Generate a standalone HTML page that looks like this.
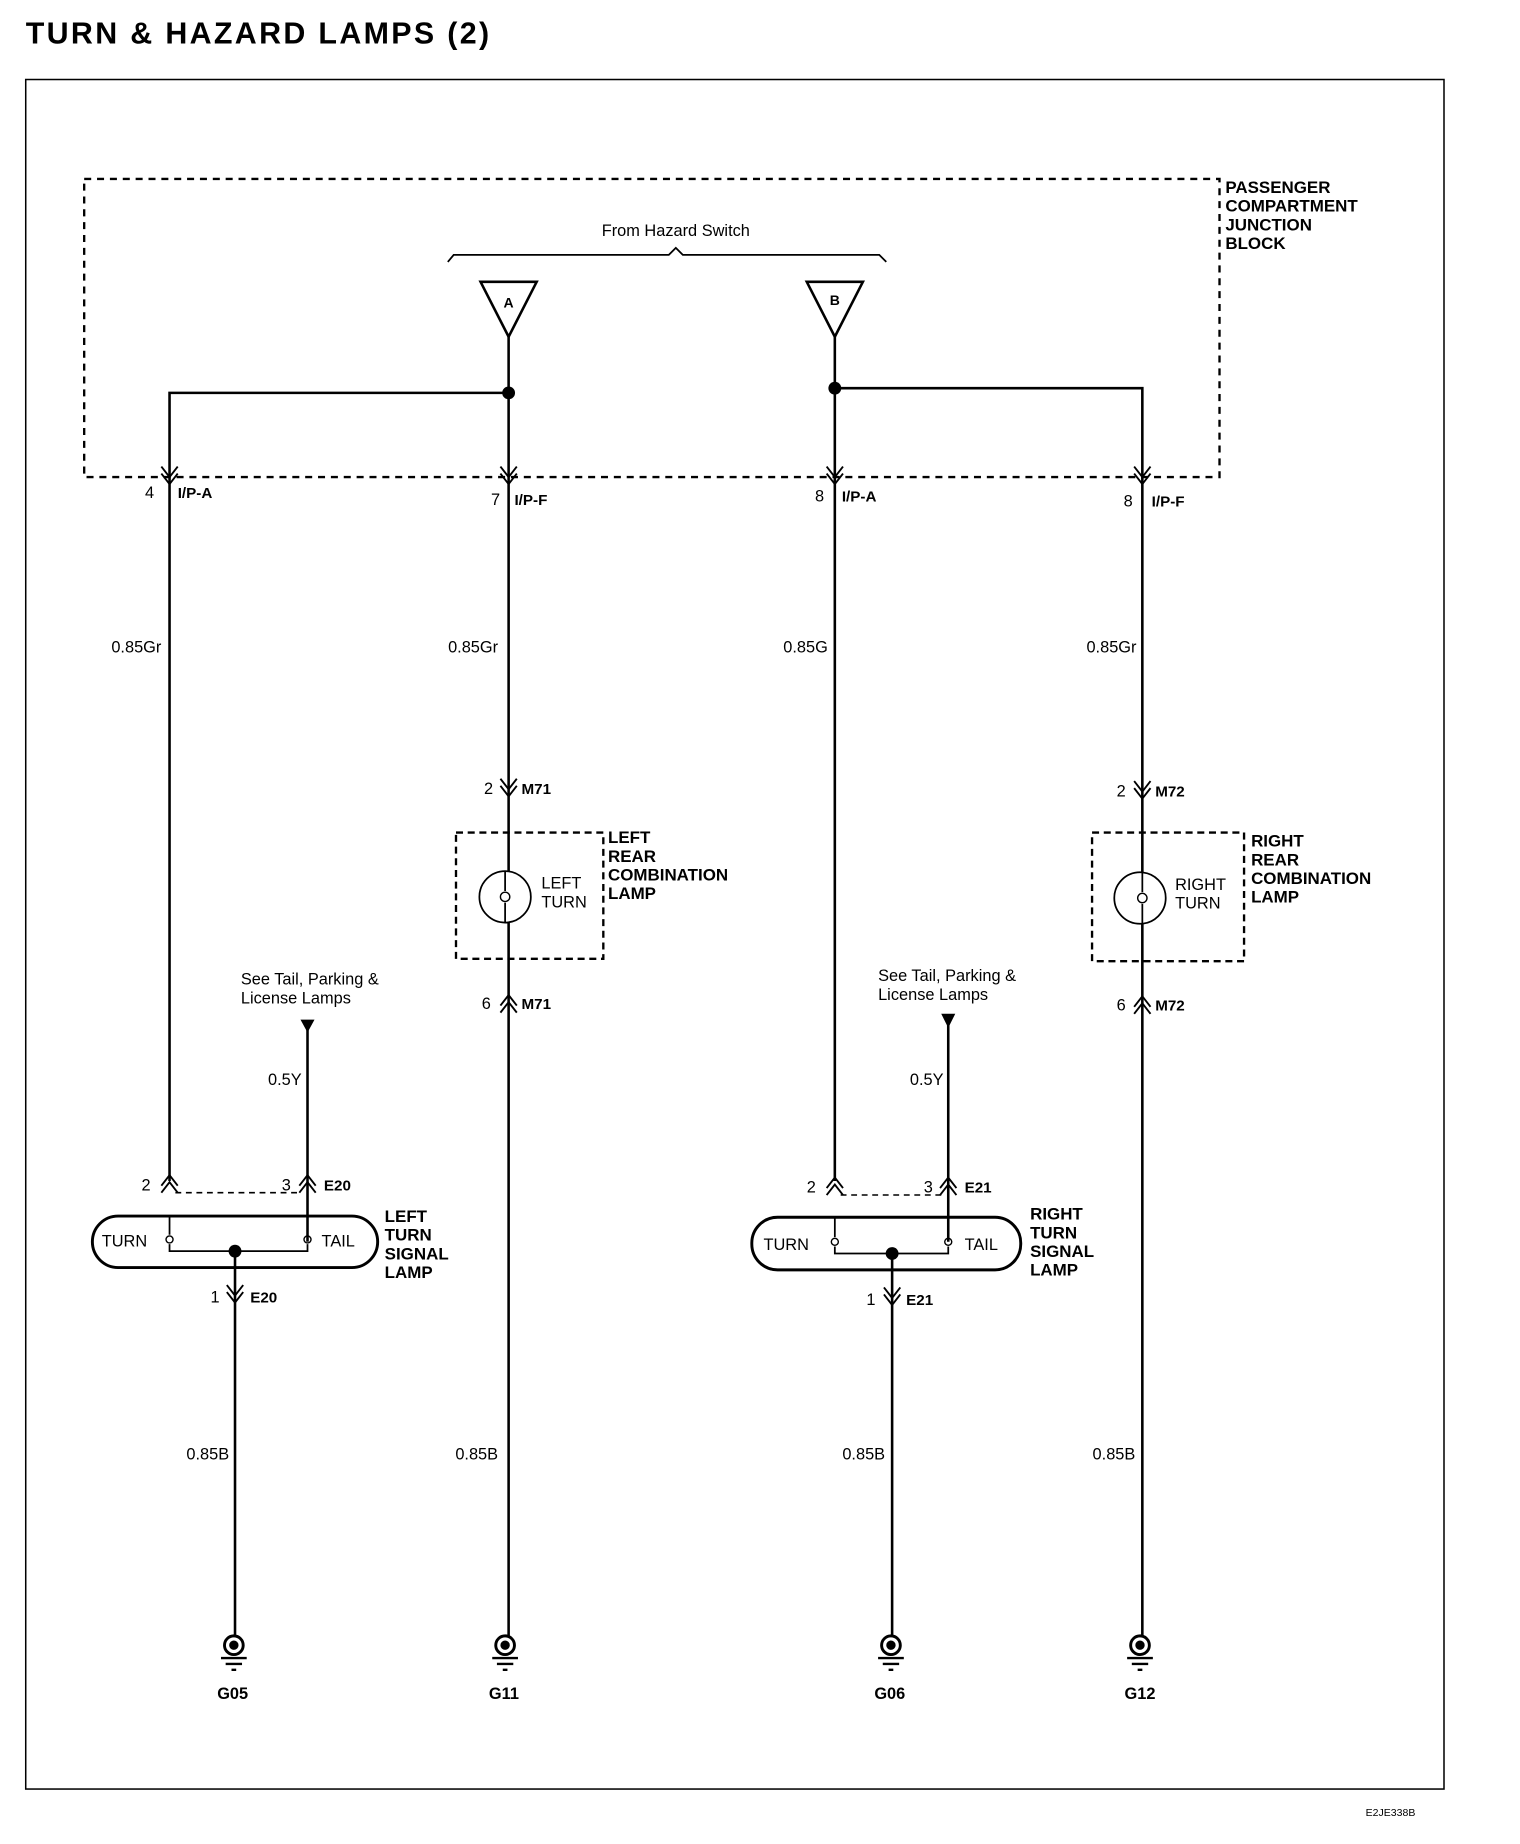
<!DOCTYPE html>
<html><head><meta charset="utf-8"><style>
html,body{margin:0;padding:0;background:#fff;}
svg{display:block}
text{font-family:"Liberation Sans",Arial,sans-serif;fill:#000}
.b{font-weight:bold;font-size:14.5px}
.n{font-size:14px}
</style></head><body>
<svg width="1520" height="1844" viewBox="0 0 1300 1577" preserveAspectRatio="none" xmlns="http://www.w3.org/2000/svg">
<defs>
<g id="dn"><path d="M-7,-9 L0,0 L7,-9 M-7,-3 L0,6 L7,-3" fill="none" stroke="#000" stroke-width="1.6"/></g>
<g id="up"><path d="M-7,9 L0,0 L7,9 M-7,3 L0,-6 L7,3" fill="none" stroke="#000" stroke-width="1.6"/></g>
<g id="gnd"><circle cx="0" cy="0" r="8" fill="#fff" stroke="#000" stroke-width="2.5"/><circle cx="0" cy="0" r="4" fill="#000"/><path d="M-11,11 H11 M-7,16 H7 M-2,21 H2" stroke="#000" stroke-width="2"/></g>
</defs>
<rect width="1300" height="1577" fill="#fff"/>
<text x="22" y="37" style="font-weight:bold;font-size:26px;letter-spacing:2px">TURN &amp; HAZARD LAMPS (2)</text>
<rect x="22" y="68" width="1213" height="1462" fill="none" stroke="#000" stroke-width="1.3"/>
<text x="1168" y="1553" style="font-size:9px">E2JE338B</text>

<rect x="72" y="153" width="971" height="255" fill="none" stroke="#000" stroke-width="2" stroke-dasharray="6,5"/>
<text class="b" x="1048" y="165">PASSENGER</text>
<text class="b" x="1048" y="181">COMPARTMENT</text>
<text class="b" x="1048" y="197">JUNCTION</text>
<text class="b" x="1048" y="213">BLOCK</text>
<text class="n" x="578" y="202" text-anchor="middle">From Hazard Switch</text>
<path d="M383,224 L388,218 H572 L578,212 L584,218 H752 L758,224" fill="none" stroke="#000" stroke-width="1.5"/>
<path d="M411,241 H459 L435,288 Z" fill="#fff" stroke="#000" stroke-width="2.2"/>
<text x="435" y="263" text-anchor="middle" style="font-weight:bold;font-size:12px">A</text>
<path d="M690,241 H738 L714,288 Z" fill="#fff" stroke="#000" stroke-width="2.2"/>
<text x="714" y="261" text-anchor="middle" style="font-weight:bold;font-size:12px">B</text>

<g stroke="#000" stroke-width="2.2" fill="none">
<path d="M435,288 V1400"/>
<path d="M435,336 H145 V1010"/>
<path d="M714,288 V1010"/>
<path d="M714,332 H977 V1400"/>
<path d="M263,880 V1062"/>
<path d="M811,876 V1062"/>
<path d="M201,1070 V1400"/>
<path d="M763,1072 V1400"/>
</g>
<circle cx="435" cy="336" r="5.5"/><circle cx="714" cy="332" r="5.5"/>

<use href="#dn" x="145" y="408"/><use href="#dn" x="435" y="408"/><use href="#dn" x="714" y="408"/><use href="#dn" x="977" y="408"/>
<text class="n" x="124" y="426">4</text><text class="b" x="152" y="426" style="font-size:13px">I/P-A</text>
<text class="n" x="420" y="432">7</text><text class="b" x="440" y="432" style="font-size:13px">I/P-F</text>
<text class="n" x="697" y="429">8</text><text class="b" x="720" y="429" style="font-size:13px">I/P-A</text>
<text class="n" x="961" y="433">8</text><text class="b" x="985" y="433" style="font-size:13px">I/P-F</text>

<text class="n" x="138" y="558" text-anchor="end">0.85Gr</text>
<text class="n" x="426" y="558" text-anchor="end">0.85Gr</text>
<text class="n" x="708" y="558" text-anchor="end">0.85G</text>
<text class="n" x="972" y="558" text-anchor="end">0.85Gr</text>

<use href="#dn" x="435" y="675"/>
<text class="n" x="414" y="679">2</text><text class="b" x="446" y="679" style="font-size:13px">M71</text>
<rect x="390" y="712" width="126" height="108" fill="none" stroke="#000" stroke-width="2" stroke-dasharray="6,4"/>
<circle cx="432" cy="767" r="22" fill="#fff" stroke="#000" stroke-width="1.5"/>
<path d="M432,745 V762 M432,772 V789" stroke="#000" stroke-width="1.5"/><circle cx="432" cy="767" r="4" fill="none" stroke="#000" stroke-width="1.2"/>
<text class="n" x="463" y="760">LEFT</text><text class="n" x="463" y="776">TURN</text>
<text class="b" x="520" y="721">LEFT</text><text class="b" x="520" y="737">REAR</text><text class="b" x="520" y="753">COMBINATION</text><text class="b" x="520" y="769">LAMP</text>
<use href="#up" x="435" y="857"/>
<text class="n" x="412" y="863">6</text><text class="b" x="446" y="863" style="font-size:13px">M71</text>

<use href="#dn" x="977" y="677"/>
<text class="n" x="955" y="681">2</text><text class="b" x="988" y="681" style="font-size:13px">M72</text>
<rect x="934" y="712" width="130" height="110" fill="none" stroke="#000" stroke-width="2" stroke-dasharray="6,4"/>
<circle cx="975" cy="768" r="22" fill="#fff" stroke="#000" stroke-width="1.5"/>
<path d="M977,746 V763 M977,773 V790" stroke="#000" stroke-width="1.5"/><circle cx="977" cy="768" r="4" fill="none" stroke="#000" stroke-width="1.2"/>
<text class="n" x="1005" y="761">RIGHT</text><text class="n" x="1005" y="777">TURN</text>
<text class="b" x="1070" y="724">RIGHT</text><text class="b" x="1070" y="740">REAR</text><text class="b" x="1070" y="756">COMBINATION</text><text class="b" x="1070" y="772">LAMP</text>
<use href="#up" x="977" y="858"/>
<text class="n" x="955" y="864">6</text><text class="b" x="988" y="864" style="font-size:13px">M72</text>

<text class="n" x="206" y="842">See Tail, Parking &amp;</text><text class="n" x="206" y="858">License Lamps</text>
<path d="M257,872 H269 L263,883 Z"/>
<text class="n" x="258" y="928" text-anchor="end">0.5Y</text>
<use href="#up" x="145" y="1011"/><use href="#up" x="263" y="1011"/>
<text class="n" x="121" y="1018">2</text><text class="n" x="241" y="1018">3</text><text class="b" x="277" y="1018" style="font-size:13px">E20</text>
<path d="M150,1020 H256" stroke="#000" stroke-width="1.3" stroke-dasharray="5,4"/>
<rect x="79" y="1040" width="244" height="44" rx="22" fill="none" stroke="#000" stroke-width="2.5"/>
<text class="n" x="87" y="1066">TURN</text><text class="n" x="275" y="1066">TAIL</text>
<path d="M145,1040 V1056 M263,1040 V1056 M145,1064 V1070 H263 V1064" fill="none" stroke="#000" stroke-width="1.5"/>
<circle cx="145" cy="1060" r="3" fill="none" stroke="#000" stroke-width="1.2"/><circle cx="263" cy="1060" r="3" fill="none" stroke="#000" stroke-width="1.2"/>
<circle cx="201" cy="1070" r="5.5"/>
<text class="b" x="329" y="1045">LEFT</text><text class="b" x="329" y="1061">TURN</text><text class="b" x="329" y="1077">SIGNAL</text><text class="b" x="329" y="1093">LAMP</text>
<use href="#dn" x="201" y="1108"/>
<text class="n" x="180" y="1114">1</text><text class="b" x="214" y="1114" style="font-size:13px">E20</text>
<text class="n" x="196" y="1248" text-anchor="end">0.85B</text>

<text class="n" x="751" y="839">See Tail, Parking &amp;</text><text class="n" x="751" y="855">License Lamps</text>
<path d="M805,867 H817 L811,879 Z"/>
<text class="n" x="807" y="928" text-anchor="end">0.5Y</text>
<use href="#up" x="714" y="1013"/><use href="#up" x="811" y="1013"/>
<text class="n" x="690" y="1020">2</text><text class="n" x="790" y="1020">3</text><text class="b" x="825" y="1020" style="font-size:13px">E21</text>
<path d="M719,1022 H805" stroke="#000" stroke-width="1.3" stroke-dasharray="5,4"/>
<rect x="643" y="1041" width="230" height="45" rx="22" fill="none" stroke="#000" stroke-width="2.5"/>
<text class="n" x="653" y="1069">TURN</text><text class="n" x="825" y="1069">TAIL</text>
<path d="M714,1041 V1058 M811,1041 V1058 M714,1066 V1072 H811 V1066" fill="none" stroke="#000" stroke-width="1.5"/>
<circle cx="714" cy="1062" r="3" fill="none" stroke="#000" stroke-width="1.2"/><circle cx="811" cy="1062" r="3" fill="none" stroke="#000" stroke-width="1.2"/>
<circle cx="763" cy="1072" r="5.5"/>
<text class="b" x="881" y="1043">RIGHT</text><text class="b" x="881" y="1059">TURN</text><text class="b" x="881" y="1075">SIGNAL</text><text class="b" x="881" y="1091">LAMP</text>
<use href="#dn" x="763" y="1110"/>
<text class="n" x="741" y="1116">1</text><text class="b" x="775" y="1116" style="font-size:13px">E21</text>
<text class="n" x="757" y="1248" text-anchor="end">0.85B</text>
<text class="n" x="426" y="1248" text-anchor="end">0.85B</text>
<text class="n" x="971" y="1248" text-anchor="end">0.85B</text>

<use href="#gnd" x="200" y="1407"/><use href="#gnd" x="432" y="1407"/><use href="#gnd" x="762" y="1407"/><use href="#gnd" x="975" y="1407"/>
<g text-anchor="middle" style="font-weight:bold;font-size:14px">
<text x="199" y="1453">G05</text><text x="431" y="1453">G11</text><text x="761" y="1453">G06</text><text x="975" y="1453">G12</text>
</g>
</svg>
</body></html>
